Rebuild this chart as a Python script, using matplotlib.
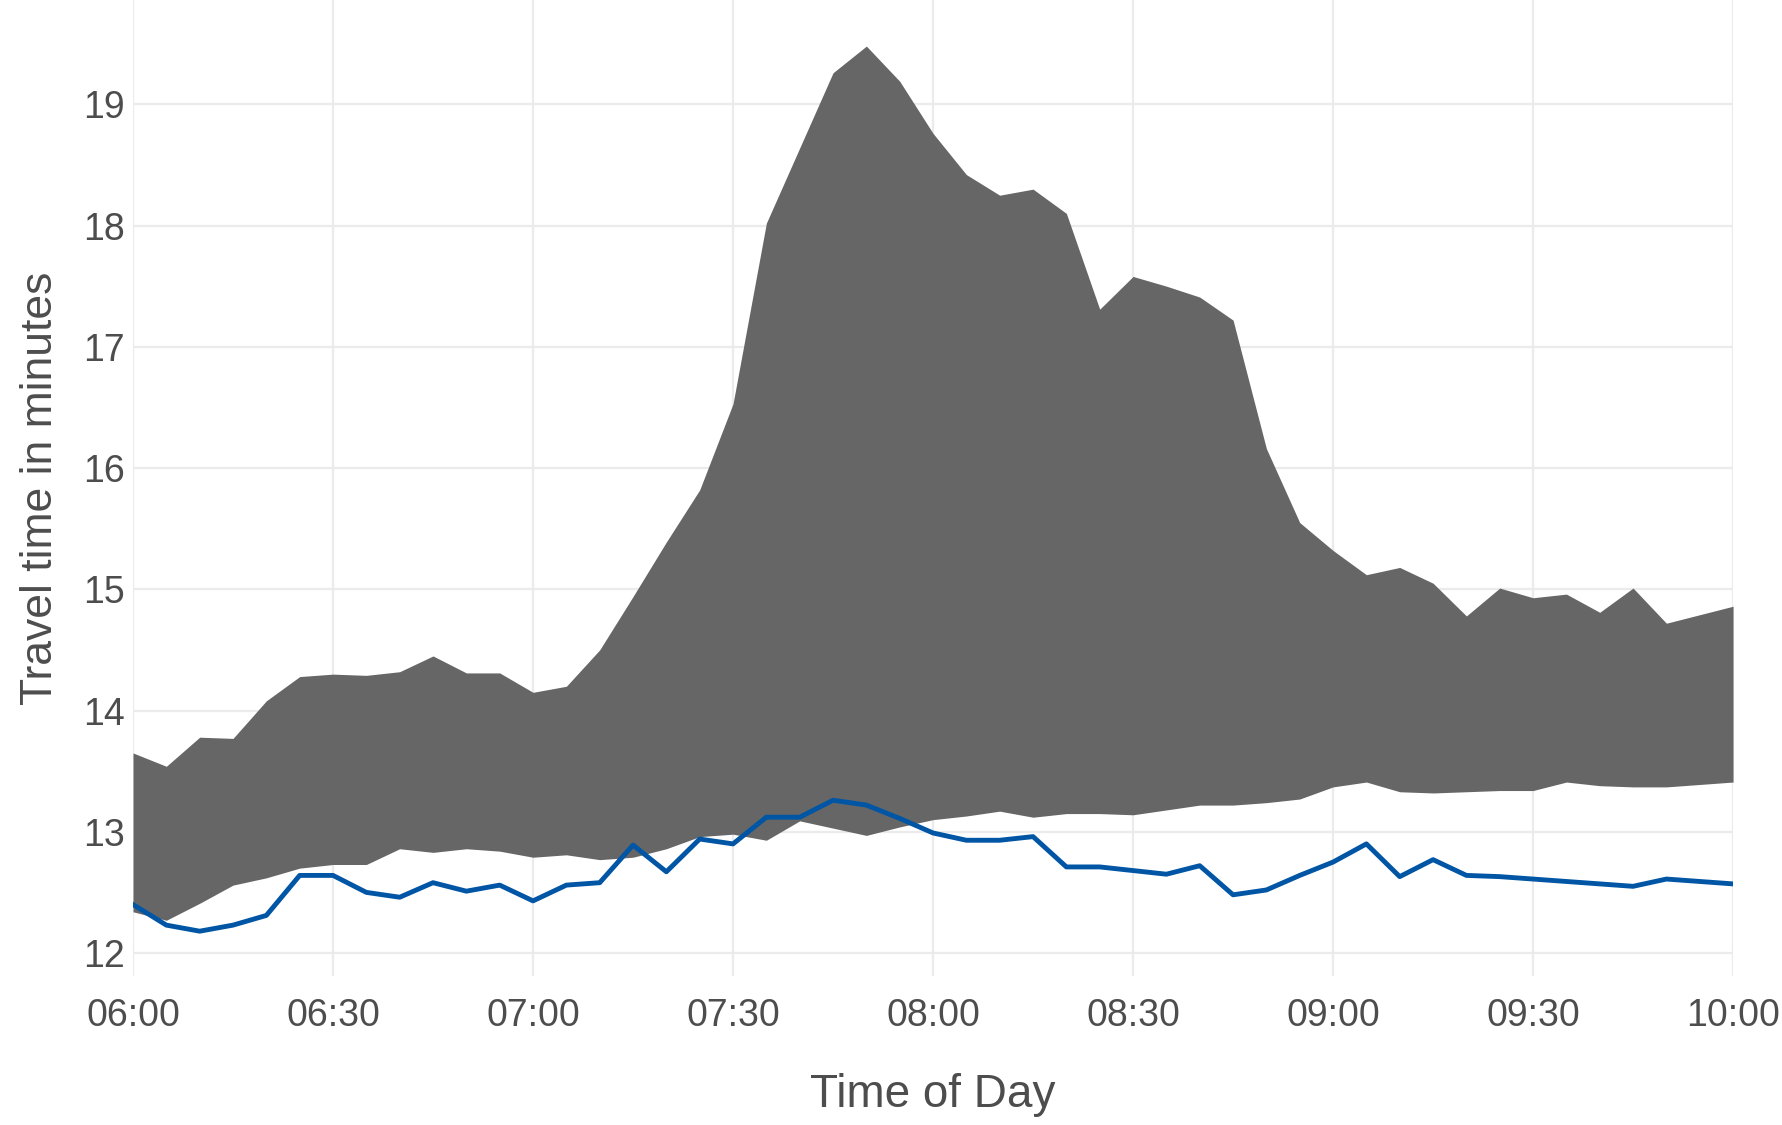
import matplotlib

matplotlib.use("Agg")
import matplotlib.pyplot as plt


TIMES = [
    "06:00", "06:05", "06:10", "06:15", "06:20", "06:25", "06:30", "06:35", "06:40", "06:45",
    "06:50", "06:55", "07:00", "07:05", "07:10", "07:15", "07:20", "07:25", "07:30", "07:35",
    "07:40", "07:45", "07:50", "07:55", "08:00", "08:05", "08:10", "08:15", "08:20", "08:25",
    "08:30", "08:35", "08:40", "08:45", "08:50", "08:55", "09:00", "09:05", "09:10", "09:15",
    "09:20", "09:25", "09:30", "09:35", "09:40", "09:45", "09:50", "09:55", "10:00",
]

BAND_UPPER = [
    13.65, 13.54, 13.78, 13.77, 14.08, 14.28, 14.30, 14.29, 14.32, 14.45,
    14.31, 14.31, 14.15, 14.20, 14.50, 14.94, 15.39, 15.82, 16.53, 18.02,
    18.64, 19.26, 19.48, 19.19, 18.76, 18.42, 18.25, 18.30, 18.10, 17.31,
    17.58, 17.50, 17.41, 17.22, 16.16, 15.55, 15.32, 15.12, 15.18, 15.05,
    14.78, 15.01, 14.93, 14.96, 14.81, 15.01, 14.72, 14.79, 14.86,
]

BAND_LOWER = [
    12.34, 12.27, 12.41, 12.56, 12.62, 12.70, 12.73, 12.73, 12.86, 12.83,
    12.86, 12.84, 12.79, 12.81, 12.77, 12.79, 12.86, 12.96, 12.98, 12.93,
    13.09, 13.03, 12.97, 13.04, 13.10, 13.13, 13.17, 13.12, 13.15, 13.15,
    13.14, 13.18, 13.22, 13.22, 13.24, 13.27, 13.37, 13.41, 13.33, 13.32,
    13.33, 13.34, 13.34, 13.41, 13.38, 13.37, 13.37, 13.39, 13.41,
]

TRAVEL_TIME = [
    12.40, 12.23, 12.18, 12.23, 12.31, 12.64, 12.64, 12.50, 12.46, 12.58,
    12.51, 12.56, 12.43, 12.56, 12.58, 12.89, 12.67, 12.94, 12.90, 13.12,
    13.12, 13.26, 13.22, 13.11, 12.99, 12.93, 12.93, 12.96, 12.71, 12.71,
    12.68, 12.65, 12.72, 12.48, 12.52, 12.64, 12.75, 12.90, 12.63, 12.77,
    12.64, 12.63, 12.61, 12.59, 12.57, 12.55, 12.61, 12.59, 12.57,
]

X_TICK_LABELS = ["06:00", "06:30", "07:00", "07:30", "08:00", "08:30", "09:00", "09:30", "10:00"]
Y_TICKS = [12, 13, 14, 15, 16, 17, 18, 19]

TEXT_COLOR = "#4d4d4d"
GRID_COLOR = "#ebebeb"


def to_minutes(label: str) -> int:
    hours, minutes = label.split(":")
    return int(hours) * 60 + int(minutes)


plt.rcParams["font.family"] = ["Liberation Sans Narrow", "Liberation Sans", "DejaVu Sans"]

x = [to_minutes(t) for t in TIMES]
x_ticks = [to_minutes(t) for t in X_TICK_LABELS]

fig = plt.figure(figsize=(17.83, 11.25), dpi=100)
ax = fig.add_axes([0.0746, 0.1324, 0.8974, 0.8676])

ax.fill_between(x, BAND_LOWER, BAND_UPPER, color="#666666", linewidth=0, zorder=2)
ax.plot(x, TRAVEL_TIME, color="#0055a5", linewidth=3.5, zorder=3)

ax.set_xlim(x[0], x[-1])
ax.set_ylim(11.81, 19.86)
ax.set_xticks(x_ticks)
ax.set_xticklabels(X_TICK_LABELS)
ax.set_yticks(Y_TICKS)

ax.grid(True, color=GRID_COLOR, linewidth=1.6, zorder=0)
ax.set_axisbelow(True)
for spine in ax.spines.values():
    spine.set_visible(False)

ax.tick_params(axis="both", length=0, labelsize=27, labelcolor=TEXT_COLOR)
ax.tick_params(axis="x", pad=16)
ax.tick_params(axis="y", pad=6)

ax.set_xlabel("Time of Day", fontsize=33, color=TEXT_COLOR, labelpad=28)
ax.set_ylabel("Travel time in minutes", fontsize=32, color=TEXT_COLOR, labelpad=16)

fig.savefig("out.png", dpi=100)
